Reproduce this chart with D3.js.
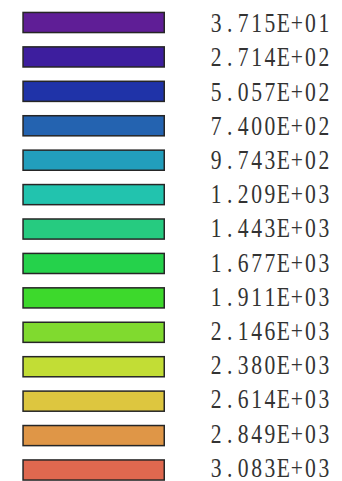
<!DOCTYPE html>
<html>
<head>
<meta charset="utf-8">
<script src="https://cdn.jsdelivr.net/npm/d3@7"></script>
<style>
  html, body { margin: 0; padding: 0; background: #fff; }
  svg { display: block; }
</style>
</head>
<body>
<script>
// Contour levels of the colour scale, lowest first
const levels = [37.15, 271.4, 505.7, 740.0, 974.3, 1209, 1443, 1677, 1911, 2146, 2380, 2614, 2849, 3083];
// Fill colour of each level swatch
const levelColors = [
  "#5F1E96", "#3D1E9E", "#1F33A8", "#2463B0", "#229EBC", "#22C3AE", "#26CB80",
  "#25D24B", "#3DD92C", "#80DA2F", "#C2DD35", "#DDC63F", "#DF9647", "#DF684F"
];

const W = 342, H = 481;

// Scientific label in the style 3.715E+01
function sci(v) {
  const [m, e] = v.toExponential(3).split("e");
  const n = Math.abs(+e);
  return m + "E" + (+e < 0 ? "-" : "+") + String(n).padStart(2, "0");
}

const svg = d3.select("body").append("svg")
  .attr("width", W).attr("height", H);

const idx = [0, levels.length - 1];
const ySwatch = d3.scaleLinear().domain(idx).range([11.7, 459.2]);
const yLabel = d3.scaleLinear().domain(idx).range([32.3, 476.7]);
const x = d3.scaleLinear().domain([0, 1]).range([22.3, 165]);
const swatchH = 21.6;
const sw = 1.5;

const rows = svg.selectAll("g.row").data(levels).join("g").attr("class", "row");

rows.append("rect")
  .attr("x", x(0) + sw / 2)
  .attr("y", (d, i) => ySwatch(i) + sw / 2)
  .attr("width", x(1) - x(0) - sw)
  .attr("height", swatchH - sw)
  .attr("fill", (d, i) => levelColors[i])
  .attr("stroke", "#262626")
  .attr("stroke-width", sw);

// Fixed-pitch labels: each character centred in its own cell
const cell = 13.45, firstCenter = 216.2, sx = 0.8;
rows.append("text")
  .attr("transform", (d, i) => `translate(${firstCenter},${yLabel(i)}) scale(${sx},1)`)
  .attr("font-family", "Liberation Serif, DejaVu Serif, serif")
  .attr("font-size", 27)
  .attr("fill", "#333")
  .attr("text-anchor", "middle")
  .attr("x", d => sci(d).split("").map((c, k) => (k * cell / sx).toFixed(2)).join(" "))
  .text(d => sci(d));
</script>
</body>
</html>
